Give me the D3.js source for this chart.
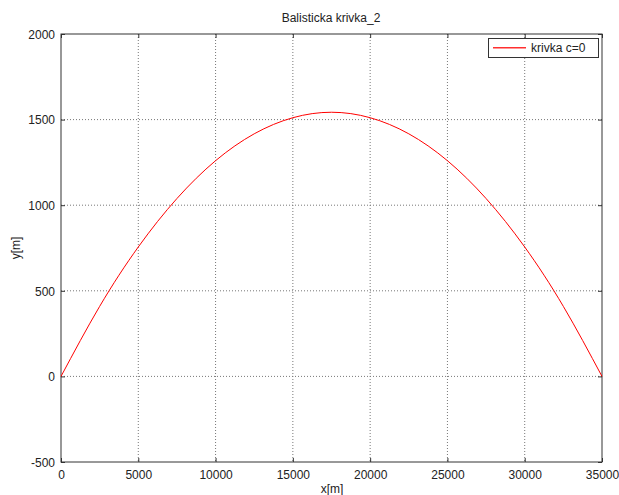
<!DOCTYPE html>
<html><head><meta charset="utf-8">
<script src="https://cdn.jsdelivr.net/npm/d3@7"></script>
<style>
body{margin:0;background:#fff;}
text{font-family:"Liberation Sans",Arial,sans-serif;fill:#222;}
</style></head>
<body><svg id="c" width="619" height="495"></svg>
<script>
const xValues = [0,2500,5000,7500,10000,12500,15000,17500,20000,22500,25000,27500,30000,32500,35000];
const yValues = [0,409,756,1039,1260,1417,1511,1543,1511,1417,1260,1039,756,409,0];
const xTicks = [0,5000,10000,15000,20000,25000,30000,35000];
const yTicks = [-500,0,500,1000,1500,2000];
const titleText = "Balisticka krivka_2";
const xLabel = "x[m]";
const yLabel = "y[m]";
const seriesName = "krivka c=0";

const L=61,R=602,T=34,B=462;
const svg=d3.select("#c");
const x=d3.scaleLinear().domain([0,35000]).range([L,R]);
const y=d3.scaleLinear().domain([-500,2000]).range([B,T]);
const fmt=d=>String(d);

const g=svg.append("g");
// grid
g.selectAll(".gx").data(xTicks.slice(1,-1)).enter().append("line")
 .attr("x1",d=>x(d)).attr("x2",d=>x(d)).attr("y1",T).attr("y2",B)
 .attr("stroke","#777").attr("stroke-width",1).attr("stroke-dasharray","1,2");
g.selectAll(".gy").data(yTicks.slice(1,-1)).enter().append("line")
 .attr("y1",d=>y(d)).attr("y2",d=>y(d)).attr("x1",L).attr("x2",R)
 .attr("stroke","#777").attr("stroke-width",1).attr("stroke-dasharray","1,2");

// axes
const ax=d3.axisBottom(x).tickValues(xTicks).tickSize(-4).tickFormat(fmt);
const gx=svg.append("g").attr("transform",`translate(0,${B})`).call(ax);
const ay=d3.axisLeft(y).tickValues(yTicks).tickSize(-4).tickFormat(fmt);
const gy=svg.append("g").attr("transform",`translate(${L},0)`).call(ay);
const axTop=d3.axisTop(x).tickValues(xTicks).tickSize(-4).tickFormat("");
svg.append("g").attr("transform",`translate(0,${T})`).call(axTop);
const ayR=d3.axisRight(y).tickValues(yTicks).tickSize(-4).tickFormat("");
svg.append("g").attr("transform",`translate(${R},0)`).call(ayR);
svg.selectAll(".domain").remove();
svg.selectAll(".tick line").attr("stroke","#333");
svg.selectAll(".tick text").attr("font-size","12px").attr("fill","#222")
  .style("font-family","Liberation Sans, Arial, sans-serif");
gy.selectAll(".tick text").attr("dy","0.35em").attr("x",-6);
gx.selectAll(".tick text").attr("dy","0.71em").attr("y",8);

// frame
svg.append("rect").attr("x",L).attr("y",T).attr("width",R-L).attr("height",B-T)
 .attr("fill","none").attr("stroke","#333").attr("stroke-width",1);

// curve
const pts=xValues.map((v,i)=>[v,yValues[i]]);
svg.append("path").datum(pts)
 .attr("d",d3.line().x(d=>x(d[0])).y(d=>y(d[1])).curve(d3.curveNatural))
 .attr("fill","none").attr("stroke","#ff0000").attr("stroke-width",1);

// titles
svg.append("text").attr("x",331).attr("y",22).attr("text-anchor","middle").attr("font-size","12px").text(titleText);
svg.append("text").attr("x",332).attr("y",493).attr("text-anchor","middle").attr("font-size","12px").text(xLabel);
svg.append("text").attr("transform","translate(20,248) rotate(-90)").attr("text-anchor","middle").attr("font-size","12px").text(yLabel);

// legend
svg.append("rect").attr("x",488.5).attr("y",38.5).attr("width",110).attr("height",19)
 .attr("fill","#fff").attr("stroke","#333").attr("stroke-width",1);
svg.append("line").attr("x1",493).attr("x2",526).attr("y1",47.7).attr("y2",47.7)
 .attr("stroke","#ff3030").attr("stroke-width",1.5);
svg.append("text").attr("x",531).attr("y",52).attr("font-size","12px").text(seriesName);
</script></body></html>
